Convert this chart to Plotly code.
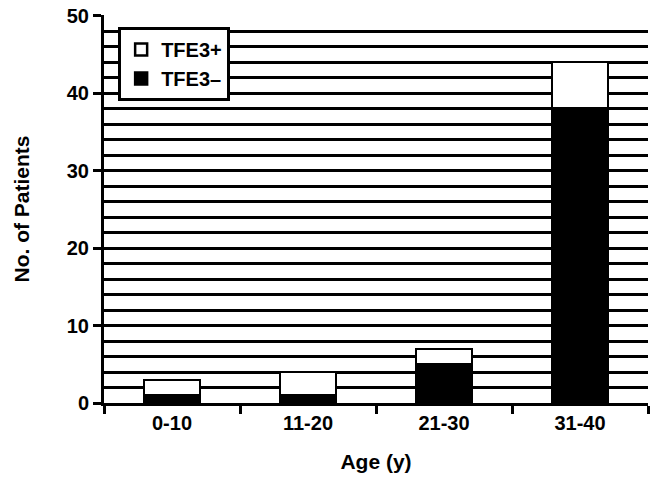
import plotly.graph_objects as go

age_groups = ["0-10", "11-20", "21-30", "31-40"]
tfe3_neg = [1, 1, 5, 38]
tfe3_pos = [2, 3, 2, 6]

fig = go.Figure()
fig.add_trace(go.Bar(x=age_groups, y=tfe3_neg, name="TFE3\u2013",
                     marker=dict(color="black", line=dict(color="black", width=2.5)),
                     width=0.41))
fig.add_trace(go.Bar(x=age_groups, y=tfe3_pos, name="TFE3+",
                     marker=dict(color="white", line=dict(color="black", width=2.5)),
                     width=0.41))

fig.update_layout(
    width=651, height=481,
    barmode="stack",
    plot_bgcolor="white", paper_bgcolor="white",
    margin=dict(l=104, r=3, t=15, b=78),
    font=dict(family="Liberation Sans", color="black", size=20, weight="bold"),
    legend=dict(x=0.026, y=0.969, xanchor="left", yanchor="top",
                traceorder="reversed", bgcolor="white",
                bordercolor="black", borderwidth=3,
                itemwidth=30, tracegroupgap=0,
                font=dict(size=20, weight="bold")),
)
fig.update_xaxes(
    range=[-0.5, 3.5], showline=True, linecolor="black", linewidth=3,
    ticks="outside", tickson="boundaries", ticklen=8, tickwidth=3,
    tickcolor="black", showgrid=False,
    title=dict(text="Age (y)", font=dict(size=21, weight="bold"), standoff=22),
)
fig.update_yaxes(
    range=[0, 50.1], tickvals=[0, 10, 20, 30, 40, 50],
    showline=True, linecolor="black", linewidth=3,
    ticks="outside", ticklen=8, tickwidth=3, tickcolor="black",
    ticklabeloverflow="allow",
    showgrid=True, gridcolor="black", gridwidth=3, zeroline=False,
    minor=dict(tickvals=list(range(2, 50, 2)), showgrid=True,
               gridcolor="black", gridwidth=3, ticks=""),
    title=dict(text="No. of Patients", font=dict(size=21, weight="bold"), standoff=32),
)

# drop the default body margin so the figure sits at the page corner
fig.write_html("out.html", config={"displayModeBar": False},
               post_script="document.body.style.margin='0';")
